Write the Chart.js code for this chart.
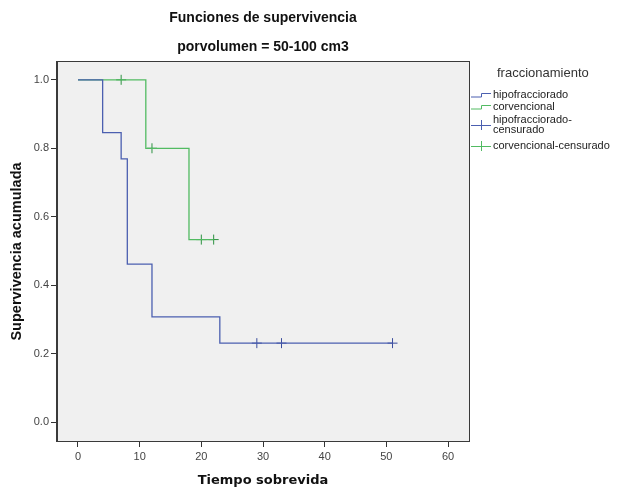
<!DOCTYPE html>
<html>
<head>
<meta charset="utf-8">
<script src="https://cdn.jsdelivr.net/npm/chart.js@4/dist/chart.umd.min.js"></script>
<style>
  html, body { margin: 0; padding: 0; background: #ffffff; }
  #wrap { width: 618px; height: 494px; position: relative; }
</style>
</head>
<body>
<div id="wrap"><canvas id="c" width="618" height="494"></canvas></div>
<script>
// Kaplan-Meier step curves (time in months, cumulative survival)
const hipoTimes = [0, 4, 7, 8, 12, 23, 51];
const hipoSurv  = [1.0, 0.846, 0.769, 0.4615, 0.3077, 0.2308, 0.2308];
const convTimes = [0, 11, 18, 22];
const convSurv  = [1.0, 0.8, 0.5333, 0.5333];

// censored observations
const hipoCensTimes = [29, 33, 51];
const hipoCensSurv  = [0.2308, 0.2308, 0.2308];
const convCensTimes = [7, 12, 20, 22];
const convCensSurv  = [1.0, 0.8, 0.5333, 0.5333];

// axis ticks
const xTicks = [0, 10, 20, 30, 40, 50, 60];
const yTicks = [0.0, 0.2, 0.4, 0.6, 0.8, 1.0];

const mainTitle = 'Funciones de supervivencia';
const subTitle = 'porvolumen = 50-100 cm3';
const legendTitle = 'fraccionamiento';
const seriesNames = ['hipofracciorado', 'corvencional', ['hipofracciorado-', 'censurado'], 'corvencional-censurado'];

const BLUE = '#4b5fb0';
const GREEN = '#52bb62';
const BLUE_DARK = '#3a4c9c';
const GREEN_DARK = '#2c9140';

const pts = (xs, ys) => xs.map((x, i) => ({ x: x, y: ys[i] }));

// plot frame + titles + legend
const decor = {
  id: 'decor',
  beforeDraw(chart) {
    const { ctx, chartArea: a } = chart;
    ctx.save();
    ctx.fillStyle = '#f0f0f0';
    ctx.fillRect(a.left, a.top, a.right - a.left, a.bottom - a.top);
    ctx.restore();
  },
  afterDraw(chart) {
    const { ctx, chartArea: a } = chart;
    ctx.save();
    ctx.strokeStyle = '#3a3a3a';
    ctx.lineWidth = 1;
    ctx.strokeRect(a.left - 0.5, a.top - 0.5, a.right - a.left + 1, a.bottom - a.top + 1);

    const cx = (a.left + a.right) / 2;
    ctx.fillStyle = '#111';
    ctx.textAlign = 'center';
    ctx.textBaseline = 'middle';
    ctx.font = 'bold 14px "Liberation Sans", Arial, sans-serif';
    ctx.fillText(mainTitle, cx, 18);
    ctx.fillText(subTitle, cx, 47);

    // legend
    ctx.textAlign = 'left';
    ctx.fillStyle = '#333';
    ctx.font = '13px "Liberation Sans", Arial, sans-serif';
    ctx.fillText(legendTitle, 497, 73);

    ctx.font = '11px "Liberation Sans", Arial, sans-serif';
    ctx.fillStyle = '#222';
    const ix0 = 471, ix1 = 491, mid = 481.5, tx = 493;
    const step = (y, color) => {
      ctx.strokeStyle = color; ctx.lineWidth = 1;
      ctx.beginPath();
      ctx.moveTo(ix0, y + 2); ctx.lineTo(mid, y + 2);
      ctx.lineTo(mid, y - 1.5); ctx.lineTo(ix1, y - 1.5);
      ctx.stroke();
    };
    const cross = (y, color) => {
      ctx.strokeStyle = color; ctx.lineWidth = 1;
      ctx.beginPath();
      ctx.moveTo(ix0, y + 0.5); ctx.lineTo(ix1, y + 0.5);
      ctx.moveTo(mid, y - 5); ctx.lineTo(mid, y + 5);
      ctx.stroke();
    };
    step(95, BLUE);
    ctx.fillText(seriesNames[0], tx, 95);
    step(107, GREEN);
    ctx.fillText(seriesNames[1], tx, 107);
    cross(125, BLUE);
    ctx.fillText(seriesNames[2][0], tx, 120);
    ctx.fillText(seriesNames[2][1], tx, 129.5);
    cross(146, GREEN);
    ctx.fillText(seriesNames[3], tx, 146);
    ctx.restore();
  }
};

new Chart(document.getElementById('c'), {
  type: 'line',
  data: {
    datasets: [
      { data: pts(hipoTimes, hipoSurv), borderColor: BLUE, borderWidth: 1.3, stepped: 'before', pointRadius: 0, fill: false },
      { data: pts(convTimes, convSurv), borderColor: GREEN, borderWidth: 1.3, stepped: 'before', pointRadius: 0, fill: false },
      { data: pts(hipoCensTimes, hipoCensSurv), showLine: false, pointStyle: 'cross', pointRadius: 5,
        borderColor: BLUE_DARK, borderWidth: 1, pointHoverRadius: 5 },
      { data: pts(convCensTimes, convCensSurv), showLine: false, pointStyle: 'cross', pointRadius: 5,
        borderColor: GREEN_DARK, borderWidth: 1, pointHoverRadius: 5 }
    ]
  },
  options: {
    responsive: false,
    animation: false,
    events: [],
    layout: { padding: { top: 62, right: 149, left: 0, bottom: 0 } },
    plugins: { legend: { display: false }, title: { display: false }, tooltip: { enabled: false } },
    scales: {
      x: {
        type: 'linear', min: -3.4, max: 63.4,
        afterBuildTicks: s => { s.ticks = xTicks.map(v => ({ value: v })); },
        afterFit: s => { s.height = 53; },
        grid: { drawOnChartArea: false, drawTicks: true, tickLength: 6, color: '#333', lineWidth: 1 },
        border: { display: true, color: '#3a3a3a' },
        ticks: { color: '#444', padding: 3, font: { family: '"Liberation Sans", Arial, sans-serif', size: 11 },
                 callback: v => String(v) },
        title: { display: true, text: 'Tiempo sobrevida', color: '#111',
                 font: { family: '"DejaVu Sans", Verdana, sans-serif', size: 13, weight: 'bold' },
                 padding: { top: 0, bottom: 6 } }
      },
      y: {
        type: 'linear', min: -0.055, max: 1.052,
        afterBuildTicks: s => { s.ticks = yTicks.map(v => ({ value: v })); },
        afterFit: s => { s.width = 57; },
        grid: { drawOnChartArea: false, drawTicks: true, tickLength: 6, color: '#333', lineWidth: 1 },
        border: { display: true, color: '#3a3a3a' },
        ticks: { color: '#444', padding: 2, font: { family: '"Liberation Sans", Arial, sans-serif', size: 11 },
                 callback: v => Number(v).toFixed(1) },
        title: { display: true, text: 'Supervivencia acumulada', color: '#111',
                 font: { family: '"Liberation Sans", Arial, sans-serif', size: 14.5, weight: 'bold' },
                 padding: { top: 8, bottom: 0 } }
      }
    }
  },
  plugins: [decor]
});
</script>
</body>
</html>
